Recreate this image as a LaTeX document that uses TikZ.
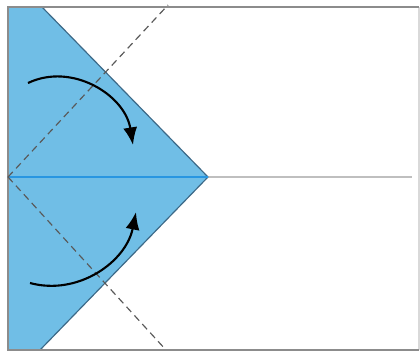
\documentclass[tikz,border=0pt]{standalone}
\usepackage{xcolor}
\usetikzlibrary{arrows.meta}

\definecolor{paperblue}{RGB}{112,190,230}
\definecolor{edgeblue}{RGB}{60,105,135}
\definecolor{creaseblue}{RGB}{40,150,225}

\begin{document}
\begin{tikzpicture}[
    x=0.03cm, y=-0.03cm,
    frame/.style={draw=black!45, line width=1.2pt},
    flap/.style={fill=paperblue, draw=edgeblue, line width=1pt, line join=round},
    crease/.style={draw=black!25, line width=1.2pt},
    valley/.style={draw=black!65, dash pattern=on 6pt off 4pt, line width=1pt},
    foldarr/.style={-{Latex[length=15pt, width=12pt]}, line width=1.8pt},
  ]
  \useasboundingbox (0,0) rectangle (420,353);
  % Paper corners
  \coordinate (tl) at (8,7);
  \coordinate (tr) at (419,7);
  \coordinate (br) at (419,350);
  \coordinate (bl) at (8,350);
  \coordinate (mid) at (8,177);
  \coordinate (tip) at (208,177);
  \coordinate (endc) at (412,177);

  % Folded flap
  \fill[white] (tl) rectangle (br);
  \draw[crease] (tip) -- (endc);
  \draw[flap] (tl) -- (42,7) -- (tip) -- (40,350) -- (bl) -- cycle;
  \draw[creaseblue, line width=1.4pt] (mid) -- (tip);
  \draw[frame, draw=black!15] (tr) -- (br);
  \draw[frame] (br) -- (bl) -- (tl) -- (tr);

  % Fold lines
  \draw[valley] (mid) -- (168,5);
  \draw[valley] (mid) -- (166,350);

  % Arrows
  \draw[foldarr] (28,83) .. controls (72,62) and (125,95) .. (133,145);
  \draw[foldarr] (30,283) .. controls (78,296) and (126,262) .. (136,212);
\end{tikzpicture}
\end{document}
